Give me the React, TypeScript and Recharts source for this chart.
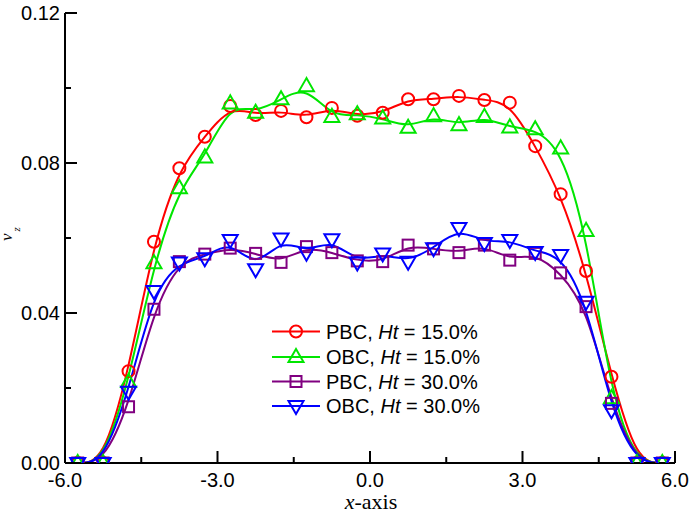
import React from 'react';
import { LineChart, Line, XAxis, YAxis, Customized } from 'recharts';

const xValues = [-5.75, -5.25, -4.75, -4.25, -3.75, -3.25, -2.75, -2.25, -1.75, -1.25, -0.75, -0.25, 0.25, 0.75, 1.25, 1.75, 2.25, 2.75, 3.25, 3.75, 4.25, 4.75, 5.25, 5.75];
const pbc15 = [0, 0, 0.0245, 0.059, 0.0786, 0.087, 0.0952, 0.0928, 0.0939, 0.0922, 0.0947, 0.0926, 0.0934, 0.097, 0.097, 0.0979, 0.0968, 0.0961, 0.0845, 0.0717, 0.0512, 0.023, 0, 0];
const obc15 = [0, 0, 0.0216, 0.0533, 0.0733, 0.0815, 0.0959, 0.0934, 0.097, 0.1005, 0.0923, 0.093, 0.0919, 0.0894, 0.0925, 0.0901, 0.0923, 0.0895, 0.089, 0.0839, 0.0619, 0.0173, 0, 0];
const pbc30 = [0, 0, 0.015, 0.041, 0.0537, 0.0557, 0.0573, 0.0559, 0.0535, 0.0577, 0.0561, 0.0539, 0.0537, 0.0581, 0.0571, 0.0561, 0.0581, 0.0541, 0.0559, 0.0507, 0.0417, 0.0159, 0, 0];
const obc30 = [0, 0, 0.019, 0.0459, 0.0535, 0.0546, 0.0595, 0.0517, 0.0599, 0.0561, 0.0597, 0.0535, 0.0559, 0.0537, 0.0573, 0.0627, 0.0587, 0.0595, 0.0563, 0.0555, 0.043, 0.0141, 0, 0];

const xTicks = [-6, -4.5, -3, -1.5, 0, 1.5, 3, 4.5, 6];
const xMajor = [-6, -3, 0, 3, 6];
const yTicks = [0, 0.02, 0.04, 0.06, 0.08, 0.1, 0.12];
const yMajor = [0, 0.04, 0.08, 0.12];

const seriesNames = ['PBC', 'OBC', 'PBC', 'OBC'];
const seriesHt = ['15.0%', '15.0%', '30.0%', '30.0%'];
const seriesKeys = ['pbc15', 'obc15', 'pbc30', 'obc30'];
const seriesColors = ['#FF0000', '#00E600', '#800080', '#0000FF'];
const seriesShapes = ['circle', 'up', 'square', 'down'];

const data = xValues.map((x, i) => ({ x, pbc15: pbc15[i], obc15: obc15[i], pbc30: pbc30[i], obc30: obc30[i] }));

const FONT = '"Liberation Sans", Arial, sans-serif';
const SERIF = '"Liberation Serif", "Times New Roman", serif';

const isMajor = (v: number, list: number[]) => list.some((m) => Math.abs(m - v) < 1e-9);

function Marker({ cx, cy, shape, color }: { cx: number; cy: number; shape: string; color: string }) {
  if (cx == null || cy == null || isNaN(cx) || isNaN(cy)) return null;
  const sw = 2;
  if (shape === 'circle') return <circle cx={cx} cy={cy} r={6} fill="none" stroke={color} strokeWidth={sw} />;
  if (shape === 'square') return <rect x={cx - 5.5} y={cy - 5.5} width={11} height={11} fill="none" stroke={color} strokeWidth={sw} />;
  if (shape === 'up')
    return <polygon points={`${cx},${cy - 8} ${cx - 7.5},${cy + 5} ${cx + 7.5},${cy + 5}`} fill="none" stroke={color} strokeWidth={sw} />;
  return <polygon points={`${cx - 7.5},${cy - 5} ${cx + 7.5},${cy - 5} ${cx},${cy + 8}`} fill="none" stroke={color} strokeWidth={sw} />;
}

const BottomTick = (props: any) => {
  const { x, y, payload } = props;
  const major = isMajor(payload.value, xMajor);
  return (
    <g>
      <line x1={x} x2={x} y1={y} y2={y - (major ? 12 : 6)} stroke="#000" strokeWidth={2} />
      {major && (
        <text x={x} y={y + 24} textAnchor="middle" fontFamily={FONT} fontSize={20} fill="#000">
          {payload.value.toFixed(1)}
        </text>
      )}
    </g>
  );
};
const TopTick = (props: any) => {
  const { x, y, payload } = props;
  const major = isMajor(payload.value, xMajor);
  return <line x1={x} x2={x} y1={y} y2={y + (major ? 12 : 6)} stroke="#000" strokeWidth={2} />;
};
const LeftTick = (props: any) => {
  const { x, y, payload } = props;
  const major = isMajor(payload.value, yMajor);
  return (
    <g>
      <line x1={x} x2={x + (major ? 12 : 6)} y1={y} y2={y} stroke="#000" strokeWidth={2} />
      {major && (
        <text x={x - 5} y={y + 7} textAnchor="end" fontFamily={FONT} fontSize={20} fill="#000">
          {payload.value.toFixed(2)}
        </text>
      )}
    </g>
  );
};
const RightTick = (props: any) => {
  const { x, y, payload } = props;
  const major = isMajor(payload.value, yMajor);
  return <line x1={x} x2={x - (major ? 12 : 6)} y1={y} y2={y} stroke="#000" strokeWidth={2} />;
};

const Extras = () => {
  const rows = [331.5, 357, 381.5, 406];
  return (
    <g>
      {rows.map((ry, i) => (
        <g key={i}>
          <line x1={272} x2={320} y1={ry} y2={ry} stroke={seriesColors[i]} strokeWidth={2} />
          <Marker cx={296} cy={ry} shape={seriesShapes[i]} color={seriesColors[i]} />
          <text x={326} y={ry + 7} fontFamily={FONT} fontSize={20} fill="#000">
            {seriesNames[i]},{' '}
            <tspan fontStyle="italic">Ht</tspan> = {seriesHt[i]}
          </text>
        </g>
      ))}
      <text x={371} y={509} textAnchor="middle" fontFamily={SERIF} fontSize={22} fill="#000">
        <tspan fontStyle="italic">x</tspan>-axis
      </text>
      <text x={0} y={0} transform="translate(12,241) rotate(-90)" fontFamily={SERIF} fontSize={17} fill="#000">
        <tspan fontStyle="italic">v</tspan>
        <tspan fontStyle="italic" fontSize={11} dx={2} dy={8}>z</tspan>
      </text>
    </g>
  );
};

export default function App() {
  return (
    <div style={{ position: 'absolute', left: 0, top: 0, width: 700, height: 522, background: '#fff' }}>
      <LineChart width={700} height={522} data={data} margin={{ top: 13, right: 25, left: 0, bottom: 29 }}>
        <XAxis
          dataKey="x"
          type="number"
          domain={[-6, 6]}
          ticks={xTicks}
          interval={0}
          height={30}
          axisLine={{ stroke: '#000', strokeWidth: 2 }}
          tickLine={false}
          tickSize={0}
          tickMargin={0}
          tick={<BottomTick />}
          allowDataOverflow
        />
        <XAxis
          xAxisId="top"
          orientation="top"
          dataKey="x"
          type="number"
          domain={[-6, 6]}
          ticks={xTicks}
          interval={0}
          height={0}
          axisLine={{ stroke: '#000', strokeWidth: 2 }}
          tickLine={false}
          tickSize={0}
          tickMargin={0}
          tick={<TopTick />}
          allowDataOverflow
        />
        <YAxis
          type="number"
          domain={[0, 0.12]}
          ticks={yTicks}
          interval={0}
          width={65}
          axisLine={{ stroke: '#000', strokeWidth: 2 }}
          tickLine={false}
          tickSize={0}
          tickMargin={0}
          tick={<LeftTick />}
          allowDataOverflow
        />
        <YAxis
          yAxisId="right"
          orientation="right"
          type="number"
          domain={[0, 0.12]}
          ticks={yTicks}
          interval={0}
          width={0}
          axisLine={{ stroke: '#000', strokeWidth: 2 }}
          tickLine={false}
          tickSize={0}
          tickMargin={0}
          tick={<RightTick />}
          allowDataOverflow
        />
        {seriesKeys.map((k, i) => (
          <Line
            key={k}
            dataKey={k}
            type="basis"
            stroke={seriesColors[i]}
            strokeWidth={2}
            isAnimationActive={false}
            dot={(p: any) => <Marker key={`${k}-${p.index}`} cx={p.cx} cy={p.cy} shape={seriesShapes[i]} color={seriesColors[i]} />}
            activeDot={false}
          />
        ))}
        <Customized component={Extras} />
      </LineChart>
    </div>
  );
}
